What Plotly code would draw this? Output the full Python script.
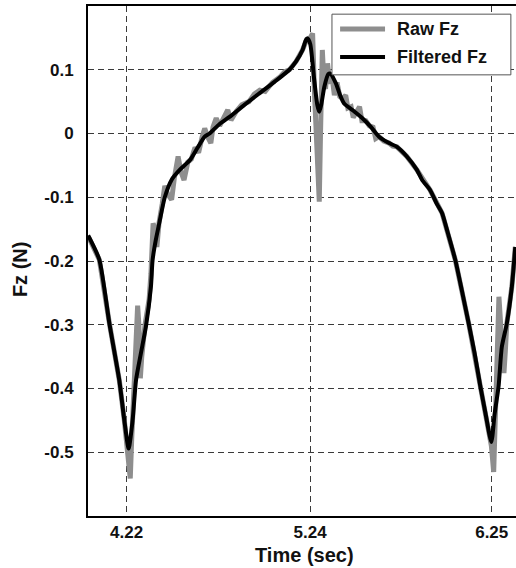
import plotly.graph_objects as go

# Vertical force over one gait cycle: raw sensor signal and low-pass filtered version
raw_time = [
    4.007, 4.068, 4.124, 4.179, 4.207, 4.228, 4.240, 4.248, 4.262, 4.274,
    4.281, 4.288, 4.296, 4.304, 4.322, 4.345, 4.355, 4.367, 4.378, 4.388,
    4.400, 4.418, 4.432, 4.448, 4.470, 4.485, 4.506, 4.522, 4.539, 4.560,
    4.580, 4.600, 4.620, 4.640, 4.654, 4.670, 4.688, 4.700, 4.718, 4.737,
    4.760, 4.782, 4.800, 4.830, 4.860, 4.900, 4.930, 4.960, 4.990, 5.030,
    5.070, 5.100, 5.125, 5.162, 5.198, 5.222, 5.240, 5.254, 5.265, 5.280,
    5.291, 5.298, 5.308, 5.318, 5.326, 5.337, 5.350, 5.362, 5.375, 5.390,
    5.405, 5.420, 5.438, 5.450, 5.468, 5.480, 5.500, 5.515, 5.528, 5.550,
    5.570, 5.590, 5.605, 5.623, 5.650, 5.679, 5.700, 5.723, 5.778, 5.834,
    5.908, 5.974, 6.048, 6.122, 6.187, 6.216, 6.248, 6.261, 6.272, 6.283,
    6.290, 6.300, 6.318, 6.326, 6.334, 6.362, 6.381,
]
raw_fz = [
    -0.162, -0.198, -0.298, -0.387, -0.450, -0.500, -0.541, -0.480, -0.400, -0.320,
    -0.270, -0.300, -0.384, -0.350, -0.300, -0.260, -0.220, -0.141, -0.150, -0.178,
    -0.140, -0.110, -0.082, -0.095, -0.104, -0.070, -0.036, -0.060, -0.073, -0.045,
    -0.040, -0.022, -0.030, -0.005, 0.008, -0.005, -0.015, 0.010, 0.024, 0.012,
    0.025, 0.037, 0.021, 0.035, 0.045, 0.050, 0.062, 0.068, 0.066, 0.080,
    0.088, 0.097, 0.100, 0.113, 0.131, 0.148, 0.150, 0.157, 0.060, -0.050,
    -0.107, 0.000, 0.131, 0.075, 0.070, 0.110, 0.078, 0.090, 0.060, 0.080,
    0.058, 0.055, 0.060, 0.040, 0.042, 0.025, 0.035, 0.042, 0.020, 0.020,
    0.012, 0.010, -0.008, -0.005, -0.012, -0.015, -0.020, -0.021, -0.036, -0.057,
    -0.089, -0.125, -0.199, -0.298, -0.397, -0.440, -0.490, -0.531, -0.440, -0.330,
    -0.256, -0.300, -0.376, -0.340, -0.298, -0.240, -0.178,
]

filt_time = [
    4.006, 4.068, 4.124, 4.179, 4.207, 4.231, 4.253, 4.272, 4.299,
    4.327, 4.355, 4.364, 4.382, 4.401, 4.432, 4.471, 4.515, 4.571, 4.615,
    4.654, 4.681, 4.737, 4.792, 4.875, 4.958, 5.042, 5.125, 5.162, 5.198,
    5.217, 5.226, 5.241, 5.263, 5.280, 5.291, 5.302, 5.319, 5.341, 5.352,
    5.383, 5.407, 5.429, 5.479, 5.531, 5.579, 5.623, 5.679, 5.723, 5.778,
    5.834, 5.863, 5.908, 5.944, 5.974, 6.005, 6.048, 6.083, 6.122, 6.155,
    6.187, 6.216, 6.248, 6.266, 6.288, 6.306, 6.334, 6.362, 6.381,
]
filt_fz = [
    -0.160, -0.198, -0.298, -0.387, -0.450, -0.494, -0.450, -0.387, -0.345,
    -0.303, -0.240, -0.199, -0.167, -0.141, -0.100, -0.072, -0.057, -0.042, -0.022,
    -0.005, 0.000, 0.015, 0.026, 0.045, 0.063, 0.081, 0.100, 0.113, 0.131,
    0.147, 0.149, 0.140, 0.084, 0.045, 0.034, 0.045, 0.073, 0.093, 0.094,
    0.079, 0.060, 0.047, 0.036, 0.024, 0.010, -0.005, -0.015, -0.021, -0.036,
    -0.057, -0.073, -0.089, -0.110, -0.125, -0.155, -0.199, -0.245, -0.298, -0.345,
    -0.397, -0.440, -0.484, -0.440, -0.397, -0.335, -0.298, -0.240, -0.178,
]

x_ticks = [4.22, 5.24, 6.25]
x_tick_labels = ["4.22", "5.24", "6.25"]
y_ticks = [-0.5, -0.4, -0.3, -0.2, -0.1, 0.0, 0.1]
y_tick_labels = ["-0.5", "-0.4", "-0.3", "-0.2", "-0.1", "0", "0.1"]

series_names = ["Raw Fz", "Filtered Fz"]
series_colors = ["#8e8e8e", "#000000"]
series_widths = [5, 4]

FONT = "Liberation Sans, Arial, sans-serif"

fig = go.Figure()
fig.add_trace(go.Scatter(
    x=raw_time, y=raw_fz, mode="lines", name=series_names[0],
    line=dict(color=series_colors[0], width=series_widths[0]),
))
fig.add_trace(go.Scatter(
    x=filt_time, y=filt_fz, mode="lines", name=series_names[1],
    line=dict(color=series_colors[1], width=series_widths[1], shape="spline", smoothing=0.6),
))

grid_style = dict(showgrid=True, gridcolor="#3a3a3a", gridwidth=1, griddash="6px,4px")

fig.update_xaxes(
    range=[4.005, 6.385], tickvals=x_ticks, ticktext=x_tick_labels,
    ticks="", ticklabelstandoff=0, zeroline=False,
    showline=True, linecolor="black", linewidth=2, mirror=True,
    tickfont=dict(family=FONT, size=17, color="#111", weight="bold"),
    **grid_style,
)
fig.update_yaxes(
    range=[-0.6, 0.2], tickvals=y_ticks, ticktext=y_tick_labels,
    ticks="", ticklabelstandoff=9, zeroline=False,
    showline=True, linecolor="black", linewidth=2, mirror=False,
    tickfont=dict(family=FONT, size=17, color="#111", weight="bold"),
    **grid_style,
)

fig.add_annotation(
    text="Time (sec)", xref="paper", yref="paper", x=0.507, y=-0.0765,
    xanchor="center", yanchor="middle", showarrow=False,
    font=dict(family=FONT, size=20, color="#111", weight="bold"),
)
fig.add_annotation(
    text="Fz (N)", xref="paper", yref="paper", x=-0.159, y=0.484,
    xanchor="center", yanchor="middle", showarrow=False, textangle=-90,
    font=dict(family=FONT, size=20, color="#111", weight="bold"),
)

# Key box in the upper-right corner of the plot area (paper coordinates)
fig.add_shape(
    type="rect", xref="paper", yref="paper",
    x0=0.570, x1=0.988, y0=0.865, y1=0.984,
    fillcolor="white", line=dict(color="#555", width=1), layer="above",
)
key_rows = [0.955, 0.900]
for name, color, width, yk in zip(series_names, series_colors, series_widths, key_rows):
    fig.add_shape(
        type="line", xref="paper", yref="paper",
        x0=0.589, x1=0.694, y0=yk, y1=yk,
        line=dict(color=color, width=width), layer="above",
    )
    fig.add_annotation(
        text=name, xref="paper", yref="paper", x=0.717, y=yk,
        xanchor="left", yanchor="middle", showarrow=False,
        font=dict(family=FONT, size=18, color="#111", weight="bold"),
    )

fig.update_layout(
    width=516, height=568,
    margin=dict(l=88, r=0, t=6, b=52),
    plot_bgcolor="white", paper_bgcolor="white",
    showlegend=False,
)

fig.write_html("out.html")
